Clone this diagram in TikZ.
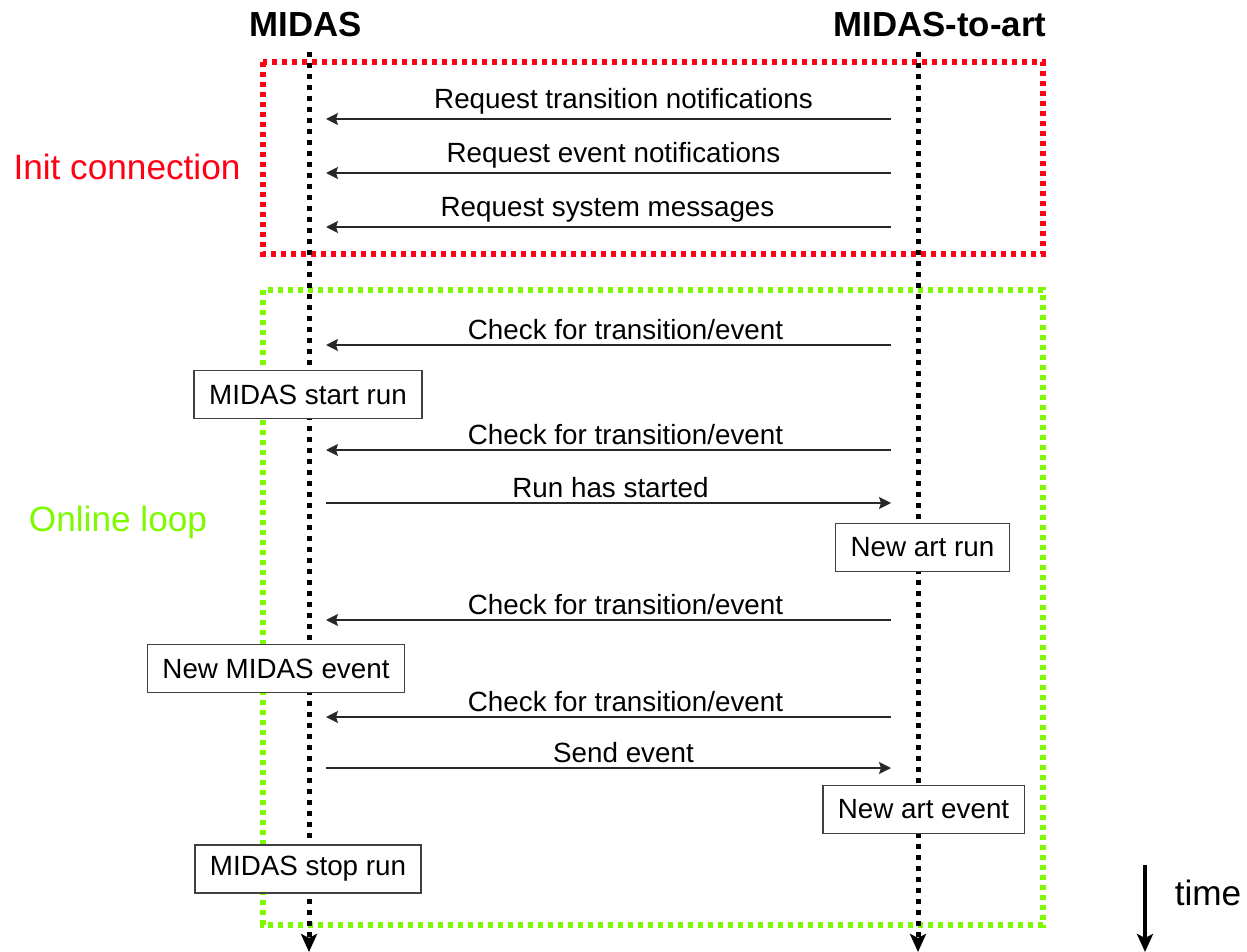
\documentclass[tikz,border=0pt]{standalone}
\usepackage{fontspec}
\setmainfont{Liberation Sans}
\usetikzlibrary{arrows.meta}
\definecolor{initred}{RGB}{255,0,20}
\definecolor{loopgreen}{RGB}{125,250,0}
\definecolor{msggray}{RGB}{40,40,40}
\tikzset{
  grp/.style={line width=2.7pt, dash pattern=on 2.7pt off 2.3pt},
  life/.style={line width=2.5pt, dash pattern=on 2.5pt off 3pt, -{Stealth[length=9pt,width=8pt,inset=2pt]}},
  msg/.style={draw=msggray, line width=0.8pt, -{Stealth[length=6pt,width=6pt,inset=1pt]}},
  lbl/.style={font=\fontsize{13.9pt}{16pt}\selectfont, above, inner sep=2pt},
  actbox/.style={draw=black!75, line width=0.75pt, fill=white, inner xsep=7.5pt, minimum height=24pt, font=\fontsize{13.9pt}{16pt}\selectfont},
  title/.style={font=\fontsize{17.4pt}{20pt}\selectfont\bfseries},
  grplabel/.style={font=\fontsize{17.6pt}{20pt}\selectfont},
}
\begin{document}
\begin{tikzpicture}[x=0.5pt,y=-0.5pt]
\useasboundingbox (0,0) rectangle (1247,952);
% groups
\draw[grp, initred] (263,62) rectangle (1043,254);
\draw[grp, loopgreen] (263,290) rectangle (1043,925);
\node[grplabel, text=initred] (initlbl) at (127,167) {Init connection};
\node[grplabel, text=loopgreen] (looplbl) at (118,522) {Online loop};
% titles
\node[title] (tmidas) at (306,25) {MIDAS};
\node[title] (tart) at (940,25) {MIDAS-to-art};
% lifelines
\coordinate (m0) at (309,52);
\coordinate (m1) at (309,952);
\coordinate (a0) at (918,52);
\coordinate (a1) at (918,952);
\draw[life] (m0) -- (m1);
\draw[life] (a0) -- (a1);
% message end points
\foreach \n/\y in {1/119,2/173,3/227,4/345,5/450,6/503,7/620,8/717,9/768}{
  \coordinate (M\n) at (309,\y);
  \coordinate (A\n) at (918,\y);
}
\tikzset{toM/.style={msg, shorten <=13.5pt, shorten >=8.5pt}, toA/.style={msg, shorten <=8.5pt, shorten >=13.5pt}}
\draw[toM] (A1) -- node[lbl, xshift=5pt] {Request transition notifications} (M1);
\draw[toM] (A2) -- node[lbl] {Request event notifications} (M2);
\draw[toM] (A3) -- node[lbl, xshift=-3pt] {Request system messages} (M3);
\draw[toM] (A4) -- node[lbl, xshift=6pt] {Check for transition/event} (M4);
\draw[toM] (A5) -- node[lbl, xshift=6pt] {Check for transition/event} (M5);
\draw[toA] (M6) -- node[lbl, xshift=-1.5pt] {Run has started} (A6);
\draw[toM] (A7) -- node[lbl, xshift=6pt] {Check for transition/event} (M7);
\draw[toM] (A8) -- node[lbl, xshift=6pt] {Check for transition/event} (M8);
\draw[toA] (M9) -- node[lbl, xshift=5pt] {Send event} (A9);
% activity boxes
\node[actbox] (startrun) at (308,394.5) {MIDAS start run};
\node[actbox] (artrun) at (922.5,547.5) {New art run};
\node[actbox] (midasevt) at (276,668.5) {New MIDAS event};
\node[actbox] (artevt) at (923.5,809.5) {New art event};
\node[actbox] (stoprun) at (308,869) {MIDAS stop run};
% time arrow
\coordinate (t0) at (1145,865);
\coordinate (t1) at (1145,952);
\draw[line width=2pt, -{Stealth[length=9pt,width=8pt,inset=2pt]}] (t0) -- (t1);
\node[grplabel] (timelbl) at (1208,893) {time};
\end{tikzpicture}
\end{document}
